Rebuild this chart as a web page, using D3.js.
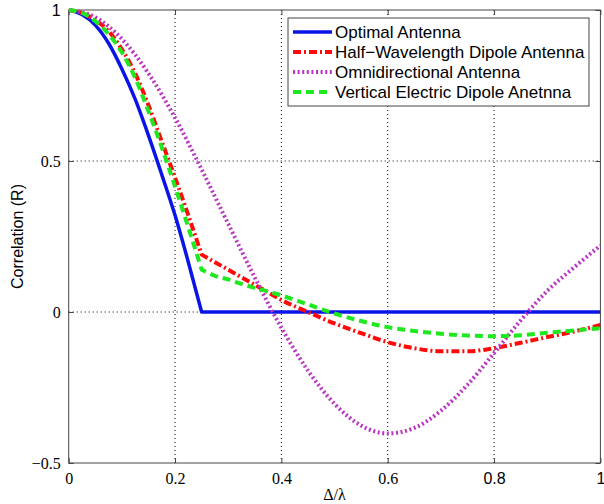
<!DOCTYPE html>
<html>
<head>
<meta charset="utf-8">
<script src="https://cdn.jsdelivr.net/npm/d3@7"></script>
<style>
  html, body { margin: 0; padding: 0; background: #fff; }
  svg { display: block; }
</style>
</head>
<body>
<svg id="chart" width="604" height="504"></svg>
<script>
// ---- data ----
const seriesNames = [
  "Optimal Antenna",
  "Half\u2212Wavelength Dipole Antenna",
  "Omnidirectional Antenna",
  "Vertical Electric Dipole Anetnna"
];
const optimalX = [0, 0.025, 0.05, 0.075, 0.1, 0.125, 0.15, 0.175, 0.2, 0.225, 0.25, 0.5, 0.75, 1];
const optimalY = [1, 0.985, 0.95, 0.89, 0.805, 0.705, 0.585, 0.455, 0.32, 0.165, 0, 0, 0, 0];

const halfWaveX = [0, 0.025, 0.05, 0.075, 0.1, 0.125, 0.15, 0.175, 0.2, 0.225, 0.25, 0.275, 0.3, 0.325, 0.35, 0.375, 0.4, 0.45, 0.5, 0.55, 0.6, 0.65, 0.7, 0.75, 0.8, 0.85, 0.9, 0.95, 1];
const halfWaveY = [1, 0.99, 0.967, 0.93, 0.87, 0.79, 0.685, 0.565, 0.445, 0.32, 0.19, 0.165, 0.14, 0.115, 0.09, 0.065, 0.04, 0.0, -0.038, -0.07, -0.1, -0.12, -0.13, -0.13, -0.12, -0.102, -0.083, -0.065, -0.043];

const omniX = [0, 0.05, 0.1, 0.15, 0.2, 0.25, 0.3, 0.35, 0.4, 0.45, 0.5, 0.55, 0.6, 0.65, 0.7, 0.75, 0.8, 0.85, 0.9, 0.95, 1];
const omniY = [1, 0.976, 0.904, 0.79, 0.643, 0.472, 0.292, 0.114, -0.052, -0.194, -0.304, -0.376, -0.402, -0.384, -0.327, -0.241, -0.136, -0.028, 0.07, 0.147, 0.22];

const vedX = [0, 0.025, 0.05, 0.075, 0.1, 0.125, 0.15, 0.175, 0.2, 0.225, 0.25, 0.275, 0.3, 0.325, 0.35, 0.375, 0.4, 0.45, 0.5, 0.55, 0.6, 0.65, 0.7, 0.75, 0.8, 0.85, 0.9, 0.95, 1];
const vedY = [1, 0.99, 0.963, 0.92, 0.86, 0.775, 0.665, 0.545, 0.415, 0.28, 0.14, 0.12, 0.108, 0.093, 0.08, 0.068, 0.055, 0.025, -0.005, -0.03, -0.05, -0.063, -0.072, -0.078, -0.08, -0.077, -0.069, -0.061, -0.054];

const kinkX = [0.25, 0.25, null, 0.25];

const xTicks = [0, 0.2, 0.4, 0.6, 0.8, 1];
const xTickLabels = ["0", "0.2", "0.4", "0.6", "0.8", "1"];
const yTicks = [-0.5, 0, 0.5, 1];
const yTickLabels = ["\u22120.5", "0", "0.5", "1"];
const sansTickLabels = ["1", "0.8"];
const xLabel = "\u0394/\u03bb";
const yLabel = "Correlation (R)";

// ---- layout ----
const svg = d3.select("#chart");
const L = 68.7, R = 600.4, T = 10, B = 463;
const x = d3.scaleLinear().domain([0, 1]).range([L, R]);
const y = d3.scaleLinear().domain([-0.5, 1]).range([B, T]);

const serif = "'Liberation Serif', 'Times New Roman', serif";
const sans = "'Liberation Sans', Arial, Helvetica, sans-serif";

// grid
const grid = svg.append("g");
xTicks.filter(v => v > 0 && v < 1).forEach(v => {
  grid.append("line").attr("x1", x(v)).attr("x2", x(v)).attr("y1", T).attr("y2", B)
    .attr("stroke", "#000").attr("stroke-width", 1).attr("stroke-dasharray", "1,3");
});
yTicks.filter(v => v > -0.5 && v < 1).forEach(v => {
  grid.append("line").attr("x1", L).attr("x2", R).attr("y1", y(v)).attr("y2", y(v))
    .attr("stroke", "#000").attr("stroke-width", 1).attr("stroke-dasharray", "1,3");
});

// axes with inward ticks
const axBottom = d3.axisBottom(x).tickValues(xTicks).tickSize(-5).tickPadding(10)
  .tickFormat((d, i) => xTickLabels[i]);
const axTop = d3.axisTop(x).tickValues(xTicks).tickSize(-5).tickFormat("");
const axLeft = d3.axisLeft(y).tickValues(yTicks).tickSize(-5).tickPadding(8)
  .tickFormat((d, i) => yTickLabels[i]);
const axRight = d3.axisRight(y).tickValues(yTicks).tickSize(-5).tickFormat("");

function styleAxis(g) {
  g.select(".domain").remove();
  g.selectAll(".tick line").attr("stroke", "#444");
  g.selectAll(".tick text").attr("fill", "#000").attr("font-size", 16)
    .attr("font-family", function() {
      return sansTickLabels.includes(d3.select(this).text()) ? sans : serif;
    });
}
const gB = svg.append("g").attr("transform", `translate(0,${B})`).call(axBottom).call(styleAxis);
gB.selectAll(".tick text").attr("dy", "0.71em");
svg.append("g").attr("transform", `translate(0,${T})`).call(axTop).call(styleAxis);
svg.append("g").attr("transform", `translate(${L},0)`).call(axLeft).call(styleAxis);
svg.append("g").attr("transform", `translate(${R},0)`).call(axRight).call(styleAxis);

// box
svg.append("rect").attr("x", L).attr("y", T).attr("width", R - L).attr("height", B - T)
  .attr("fill", "none").attr("stroke", "#444").attr("stroke-width", 1);

// series
const series = [
  { name: seriesNames[0], xs: optimalX, ys: optimalY, color: "#0a14e6", dash: null, width: 3.5 },
  { name: seriesNames[1], xs: halfWaveX, ys: halfWaveY, color: "#ff0a0a", dash: "8,3,2,3", width: 4 },
  { name: seriesNames[2], xs: omniX, ys: omniY, color: "#bb33c4", dash: "2,2.6", width: 4 },
  { name: seriesNames[3], xs: vedX, ys: vedY, color: "#1ee81e", dash: "8,5", width: 4 }
];

const clip = svg.append("clipPath").attr("id", "plotclip");
clip.append("rect").attr("x", L).attr("y", T - 3).attr("width", R - L).attr("height", B - T + 6);

const line = d3.line().x(d => x(d[0])).y(d => y(d[1])).curve(d3.curveMonotoneX);
const plotG = svg.append("g").attr("clip-path", "url(#plotclip)");
series.forEach((s, si) => {
  const pts = s.xs.map((v, i) => [v, s.ys[i]]);
  const k = kinkX[si];
  let d;
  if (k === null) {
    d = line(pts);
  } else {
    const a = pts.filter(p => p[0] <= k), b = pts.filter(p => p[0] >= k);
    d = line(a) + line(b).replace(/^M/, "L");
  }
  const p = plotG.append("path").attr("d", d)
    .attr("fill", "none").attr("stroke", s.color).attr("stroke-width", s.width)
    .attr("stroke-linejoin", "round");
  if (s.dash) p.attr("stroke-dasharray", s.dash);
});

// legend
const lg = svg.append("g");
const lgX = 288, lgY = 18, lgW = 301, lgH = 88;
lg.append("rect").attr("x", lgX).attr("y", lgY).attr("width", lgW).attr("height", lgH)
  .attr("fill", "#fff").attr("stroke", "#444").attr("stroke-width", 1);
series.forEach((s, i) => {
  const yy = lgY + 14 + i * 20;
  const l = lg.append("line").attr("x1", lgX + 5).attr("x2", lgX + 44).attr("y1", yy).attr("y2", yy)
    .attr("stroke", s.color).attr("stroke-width", s.width);
  if (s.dash) l.attr("stroke-dasharray", s.dash);
  lg.append("text").attr("x", lgX + 47).attr("y", yy).attr("dy", "0.35em")
    .attr("font-family", sans).attr("font-size", 17).attr("fill", "#000").text(s.name);
});

// axis labels
svg.append("text").attr("x", (L + R) / 2).attr("y", 500).attr("text-anchor", "middle")
  .attr("font-family", serif).attr("font-size", 16).attr("fill", "#000").text(xLabel);
svg.append("text").attr("transform", `translate(23,${(T + B) / 2}) rotate(-90)`)
  .attr("text-anchor", "middle").attr("font-family", sans).attr("font-size", 16)
  .attr("fill", "#000").text(yLabel);
</script>
</body>
</html>
